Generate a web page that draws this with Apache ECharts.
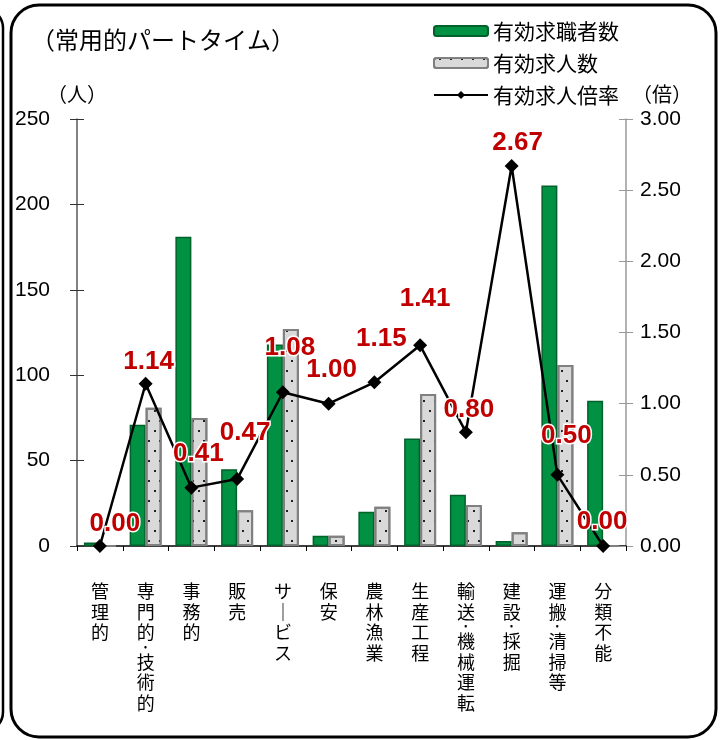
<!DOCTYPE html>
<html><head><meta charset="utf-8">
<script src="https://cdn.jsdelivr.net/npm/echarts@6/dist/echarts.min.js"></script>
<style>html,body{margin:0;padding:0;background:#fff}#c{width:723px;height:740px}</style>
</head><body><div id="c"></div>
<script>
const categories = ['管理的','専門的・技術的','事務的','販売','サービス','保安','農林漁業','生産工程','輸送・機械運転','建設・採掘','運搬・清掃等','分類不能'];
const seekers = [2, 71, 181, 45, 118, 6, 20, 63, 30, 3, 211, 85];
const openings = [0, 81, 75, 21, 127, 6, 23, 89, 24, 8, 106, 0];
const ratio = [0.00, 1.14, 0.41, 0.47, 1.08, 1.00, 1.15, 1.41, 0.80, 2.67, 0.50, 0.00];
const leftTicks = {min: 0, max: 250, interval: 50};
const rightTicks = {min: 0, max: 3, interval: 0.5};
const labelNudge = [[15,0],[3,0],[7,-12],[8,-24],[7,-22],[3,-12],[7,-21],[5,-24],[3,0],[6,-1],[9,-17],[-1,-2]];

const JP = "'Noto Sans CJK JP', sans-serif";
const NUM = "'Liberation Sans', Arial, sans-serif";
const chart = echarts.init(document.getElementById('c'), null, {renderer: 'canvas'});

function vert(s) {
  const out = [];
  for (const ch of s) {
    if (ch === '・') out.push('{d|·}');
    else if (ch === 'ー') out.push('｜');
    else out.push(ch);
  }
  return out.join('\n');
}

chart.setOption({
  animation: false,
  backgroundColor: '#fff',
  graphic: [
    {type: 'rect', shape: {x: 11, y: 5, width: 705, height: 732, r: 28}, style: {fill: 'none', stroke: '#000', lineWidth: 3}, z: 100},
    {type: 'rect', shape: {x: -40, y: 8, width: 43, height: 724, r: 20}, style: {fill: 'none', stroke: '#000', lineWidth: 2.5}, z: 100},
    {type: 'text', left: 31, top: 28, style: {text: '（常用的パートタイム）', font: "24px 'Noto Sans CJK JP'", fill: '#000'}},
    {type: 'text', left: 47, top: 84, style: {text: '（人）', font: "20px 'Noto Sans CJK JP'", fill: '#000'}},
    {type: 'text', left: 632, top: 84, style: {text: '（倍）', font: "20px 'Noto Sans CJK JP'", fill: '#000'}}
  ],
  legend: {
    orient: 'vertical', left: 428, top: 15,
    itemWidth: 54, itemHeight: 10, itemGap: 10,
    textStyle: {fontFamily: JP, fontSize: 21, color: '#000', lineHeight: 22},
    data: ['有効求職者数', '有効求人数', '有効求人倍率']
  },
  grid: {left: 77, right: 97, top: 119, bottom: 194, containLabel: false},
  xAxis: {
    type: 'category', data: categories,
    axisLine: {lineStyle: {color: '#000', width: 1.5}},
    axisTick: {show: true, length: 5, lineStyle: {color: '#000'}},
    axisLabel: {interval: 0, margin: 35, fontFamily: JP, fontSize: 18, lineHeight: 20.5, color: '#000', formatter: vert,
      rich: {d: {fontFamily: JP, fontSize: 18, lineHeight: 9, color: '#000'}}}
  },
  yAxis: [
    {type: 'value', position: 'left', ...leftTicks,
      axisLine: {show: true, lineStyle: {color: '#595959', width: 1.5}},
      axisTick: {show: true, length: 7, lineStyle: {color: '#333'}},
      axisLabel: {margin: 27, fontFamily: NUM, fontSize: 21, color: '#000'},
      splitLine: {show: false}},
    {type: 'value', position: 'right', ...rightTicks,
      axisLine: {show: true, lineStyle: {color: '#999', width: 1.5}},
      axisTick: {show: true, length: 7, lineStyle: {color: '#999'}},
      axisLabel: {margin: 14, fontFamily: NUM, fontSize: 21, color: '#000', formatter: v => v.toFixed(2)},
      splitLine: {show: false}},
    {type: 'value', position: 'left', ...leftTicks,
      axisLine: {show: false}, axisLabel: {show: false}, splitLine: {show: false},
      axisTick: {show: true, inside: true, length: 7, lineStyle: {color: '#333'}}},
    {type: 'value', position: 'right', ...rightTicks,
      axisLine: {show: false}, axisLabel: {show: false}, splitLine: {show: false},
      axisTick: {show: true, inside: true, length: 7, lineStyle: {color: '#999'}}}
  ],
  series: [
    {name: '有効求職者数', type: 'bar', data: seekers, barWidth: 16, barGap: '0%',
      itemStyle: {color: '#009143', borderColor: '#00612a', borderWidth: 1.5}},
    {name: '有効求人数', type: 'bar', data: openings, barWidth: 16,
      itemStyle: {color: '#d9d9d9', borderColor: '#808080', borderWidth: 2,
        decal: {symbol: 'rect', symbolSize: 1, color: '#222', dashArrayX: [[1.5, 8.5], [0, 5, 1.5, 3.5]], dashArrayY: [1.5, 8], rotation: 0}}},
    {name: '有効求人倍率', type: 'line', yAxisIndex: 1, z: 10,
      data: ratio.map((v, i) => ({value: v, label: {offset: labelNudge[i]}})),
      symbol: 'diamond', symbolSize: 14,
      lineStyle: {color: '#000', width: 2.5}, itemStyle: {color: '#000'},
      label: {show: true, position: 'top', distance: 2, formatter: p => p.value.toFixed(2),
        color: '#c00000', fontFamily: NUM, fontWeight: 'bold', fontSize: 26,
        textBorderColor: '#fff', textBorderWidth: 3}}
  ]
});
</script></body></html>
